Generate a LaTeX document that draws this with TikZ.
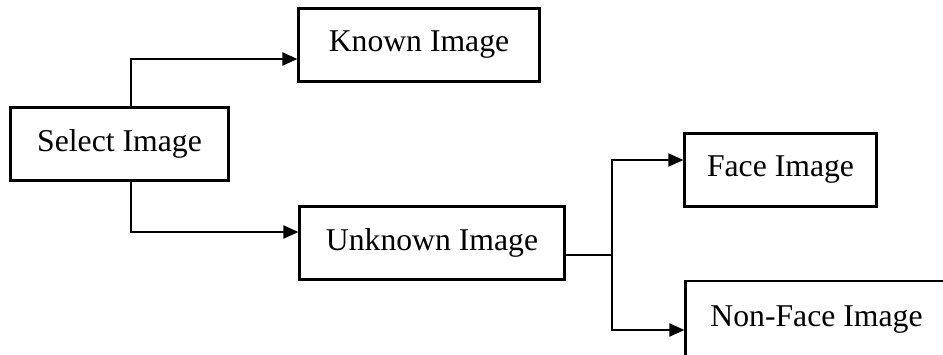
\documentclass[tikz,border=0pt]{standalone}
\usepackage{fontspec}
\setmainfont{Liberation Serif}
\usetikzlibrary{arrows.meta}
\begin{document}
\begin{tikzpicture}[x=1pt,y=-1pt,
  box/.style={draw=black, line width=2.2pt, rectangle, inner sep=0pt,
    font=\fontsize{31.7}{38}\selectfont, anchor=center},
  conn/.style={draw=black, line width=2pt},
  arr/.style={conn, -{Triangle[length=15pt,width=13pt]}}]
\useasboundingbox (0,0) rectangle (943,354);
\clip (0,0) rectangle (943,354);
\fill[white] (0,0) rectangle (943,354);
\node[box, minimum width=218pt, minimum height=73pt] (sel) at (119.5,144) {Select Image};
\node[box, minimum width=241pt, minimum height=73pt] (known) at (419,45) {Known Image};
\node[box, minimum width=265pt, minimum height=73pt] (unk) at (432,243) {Unknown Image};
\node[box, minimum width=192pt, minimum height=73pt] (face) at (780.5,170) {Face Image};
\node[box, minimum width=262pt, minimum height=78pt] (nonface) at (816.5,320) {Non-Face Image};
\coordinate (split) at (612,255);
\draw[arr] ([xshift=11.5pt]sel.north) |- ([yshift=-14pt]known.west);
\draw[arr] ([xshift=11.5pt]sel.south) |- ([yshift=11pt]unk.west);
\draw[conn] ([yshift=-12pt]unk.east) -- (split);
\draw[arr] (split) |- ([yshift=10pt]face.west);
\draw[arr] (split) |- ([yshift=-10pt]nonface.west);
\end{tikzpicture}
\end{document}
